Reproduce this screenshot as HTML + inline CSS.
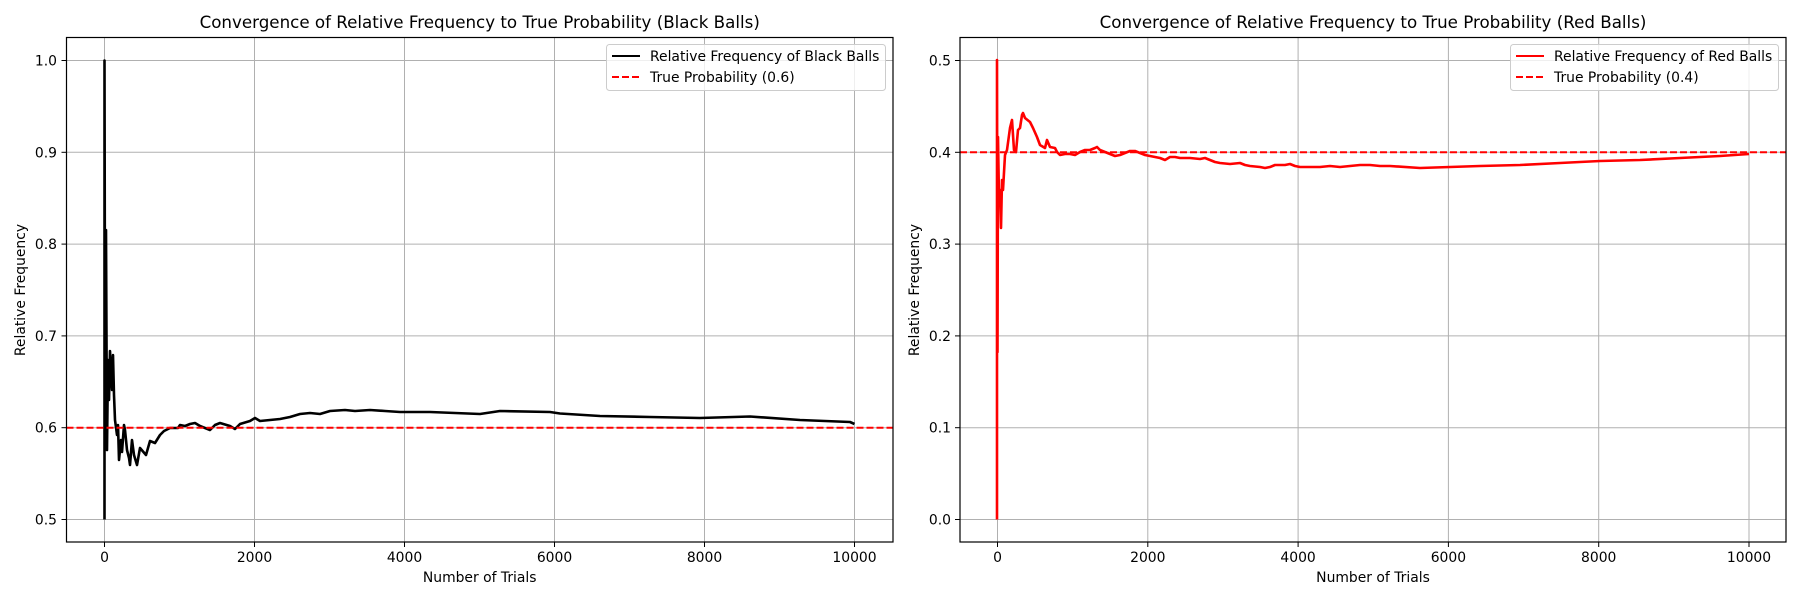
<!DOCTYPE html>
<html><head><meta charset="utf-8"><style>body{margin:0;background:#fff}svg{display:block}text{font-family:"DejaVu Sans","Liberation Sans",sans-serif;fill:#000}</style></head>
<body>
<svg width="1800" height="600" viewBox="0 0 1800 600" xmlns="http://www.w3.org/2000/svg">
<rect width="1800" height="600" fill="#fff"/>
<!-- LEFT -->
<g stroke="#b0b0b0" stroke-width="1">
<line x1="104.5" y1="37.5" x2="104.5" y2="542"/><line x1="254.5" y1="37.5" x2="254.5" y2="542"/><line x1="404.5" y1="37.5" x2="404.5" y2="542"/><line x1="554.5" y1="37.5" x2="554.5" y2="542"/><line x1="704.5" y1="37.5" x2="704.5" y2="542"/><line x1="854.5" y1="37.5" x2="854.5" y2="542"/>
<line x1="66.5" y1="60.5" x2="893" y2="60.5"/><line x1="66.5" y1="152.3" x2="893" y2="152.3"/><line x1="66.5" y1="244.1" x2="893" y2="244.1"/><line x1="66.5" y1="335.9" x2="893" y2="335.9"/><line x1="66.5" y1="427.7" x2="893" y2="427.7"/><line x1="66.5" y1="519.5" x2="893" y2="519.5"/>
</g>
<polyline fill="none" stroke="#000" stroke-width="2.6" stroke-linejoin="round" points="104.5,519.5 104.5,60.5 105,340 105.5,440 106,230 107,450 108,360 109,400 110,351 111,370 112,390 113,355 114,395 115,420 117,435 118,425 119,460 121,440 122,452 124,425 125,430 127,450 129,458 130,465 132,440 134,455 137,465 140,448 146,455 150,441 155,443 160,435 164,431 170,428 178,428 180,425 185,426 190,424 195,423 200,426 205,428 210,430 215,425 220,423 230,426 235,429 240,424 250,421 255,418 260,421 270,420 280,419 290,417 300,414 310,413 320,414 330,411 345,410 355,411 370,410 385,411 400,412 430,412 480,414 500,411 550,412 560,413.5 600,416 650,417 700,418 750,416.5 800,420 850,422 854.5,424"/>
<line x1="66.5" y1="427.7" x2="893" y2="427.7" stroke="#f00" stroke-width="2" stroke-dasharray="7,3"/>
<rect x="66.5" y="37.5" width="826.5" height="504.5" fill="none" stroke="#000" stroke-width="1.2"/>
<g stroke="#000"><line x1="104.5" y1="542" x2="104.5" y2="547"/><line x1="254.5" y1="542" x2="254.5" y2="547"/><line x1="404.5" y1="542" x2="404.5" y2="547"/><line x1="554.5" y1="542" x2="554.5" y2="547"/><line x1="704.5" y1="542" x2="704.5" y2="547"/><line x1="854.5" y1="542" x2="854.5" y2="547"/>
<line x1="61.5" y1="60.5" x2="66.5" y2="60.5"/><line x1="61.5" y1="152.3" x2="66.5" y2="152.3"/><line x1="61.5" y1="244.1" x2="66.5" y2="244.1"/><line x1="61.5" y1="335.9" x2="66.5" y2="335.9"/><line x1="61.5" y1="427.7" x2="66.5" y2="427.7"/><line x1="61.5" y1="519.5" x2="66.5" y2="519.5"/></g>
<g font-size="13.9" text-anchor="middle"><text x="104.5" y="562">0</text><text x="254.5" y="562">2000</text><text x="404.5" y="562">4000</text><text x="554.5" y="562">6000</text><text x="704.5" y="562">8000</text><text x="854.5" y="562">10000</text></g>
<g font-size="13.9" text-anchor="end"><text x="57" y="65.5">1.0</text><text x="57" y="157.3">0.9</text><text x="57" y="249.1">0.8</text><text x="57" y="340.9">0.7</text><text x="57" y="432.7">0.6</text><text x="57" y="524.5">0.5</text></g>
<text x="479.7" y="582" font-size="13.9" text-anchor="middle">Number of Trials</text>
<text transform="translate(25,290) rotate(-90)" font-size="13.9" text-anchor="middle">Relative Frequency</text>
<text x="479.7" y="28" font-size="16.7" text-anchor="middle">Convergence of Relative Frequency to True Probability (Black Balls)</text>
<rect x="606.5" y="44.5" width="279" height="46" rx="3" fill="#fff" fill-opacity="0.8" stroke="#ccc"/>
<line x1="612" y1="56" x2="640" y2="56" stroke="#000" stroke-width="2"/>
<line x1="612" y1="77" x2="640" y2="77" stroke="#f00" stroke-width="2" stroke-dasharray="7,3"/>
<text x="650" y="61" font-size="13.9">Relative Frequency of Black Balls</text>
<text x="650" y="82" font-size="13.9">True Probability (0.6)</text>
<!-- RIGHT -->
<g stroke="#b0b0b0" stroke-width="1">
<line x1="997.5" y1="37.5" x2="997.5" y2="542"/><line x1="1147.8" y1="37.5" x2="1147.8" y2="542"/><line x1="1298.1" y1="37.5" x2="1298.1" y2="542"/><line x1="1448.4" y1="37.5" x2="1448.4" y2="542"/><line x1="1598.7" y1="37.5" x2="1598.7" y2="542"/><line x1="1749" y1="37.5" x2="1749" y2="542"/>
<line x1="960" y1="60.5" x2="1786" y2="60.5"/><line x1="960" y1="152.3" x2="1786" y2="152.3"/><line x1="960" y1="244.1" x2="1786" y2="244.1"/><line x1="960" y1="335.9" x2="1786" y2="335.9"/><line x1="960" y1="427.7" x2="1786" y2="427.7"/><line x1="960" y1="519.5" x2="1786" y2="519.5"/>
</g>
<polyline fill="none" stroke="#f00" stroke-width="2.6" stroke-linejoin="round" points="997,519.5 997,60 997.5,352 998,137 999,200 1000,190 1001,228 1002,180 1003,190 1005,155 1007,150 1010,128 1012,120 1014,150 1016,152 1018,130 1020,128 1022,115 1023,113 1025,118 1030,122 1033,128 1037,137 1040,145 1045,148 1047,140 1050,147 1055,148 1057,152 1060,155 1065,154 1070,154 1075,155 1080,152 1085,150 1090,150 1095,148 1097,147 1100,150 1105,152 1110,154 1115,156 1120,155 1125,153 1130,151 1135,151 1140,153 1145,155 1150,156 1160,158 1165,160 1170,157 1175,157 1180,158 1190,158 1200,159 1205,158 1210,160 1215,162 1220,163 1230,164 1240,163 1245,165 1250,166 1260,167 1265,168 1270,167 1275,165 1285,165 1290,164 1295,166 1300,167 1310,167 1320,167 1330,166 1340,167 1350,166 1360,165 1370,165 1380,166 1390,166 1420,168 1450,167 1480,166 1520,165 1560,163 1600,161 1640,160 1680,158 1720,156 1749,154"/>
<line x1="960" y1="152.3" x2="1786" y2="152.3" stroke="#f00" stroke-width="2" stroke-dasharray="7,3"/>
<rect x="960" y="37.5" width="826" height="504.5" fill="none" stroke="#000" stroke-width="1.2"/>
<g stroke="#000"><line x1="997.5" y1="542" x2="997.5" y2="547"/><line x1="1147.8" y1="542" x2="1147.8" y2="547"/><line x1="1298.1" y1="542" x2="1298.1" y2="547"/><line x1="1448.4" y1="542" x2="1448.4" y2="547"/><line x1="1598.7" y1="542" x2="1598.7" y2="547"/><line x1="1749" y1="542" x2="1749" y2="547"/>
<line x1="955" y1="60.5" x2="960" y2="60.5"/><line x1="955" y1="152.3" x2="960" y2="152.3"/><line x1="955" y1="244.1" x2="960" y2="244.1"/><line x1="955" y1="335.9" x2="960" y2="335.9"/><line x1="955" y1="427.7" x2="960" y2="427.7"/><line x1="955" y1="519.5" x2="960" y2="519.5"/></g>
<g font-size="13.9" text-anchor="middle"><text x="997.5" y="562">0</text><text x="1147.8" y="562">2000</text><text x="1298.1" y="562">4000</text><text x="1448.4" y="562">6000</text><text x="1598.7" y="562">8000</text><text x="1749" y="562">10000</text></g>
<g font-size="13.9" text-anchor="end"><text x="951" y="65.5">0.5</text><text x="951" y="157.3">0.4</text><text x="951" y="249.1">0.3</text><text x="951" y="340.9">0.2</text><text x="951" y="432.7">0.1</text><text x="951" y="524.5">0.0</text></g>
<text x="1373" y="582" font-size="13.9" text-anchor="middle">Number of Trials</text>
<text transform="translate(919,290) rotate(-90)" font-size="13.9" text-anchor="middle">Relative Frequency</text>
<text x="1373" y="28" font-size="16.7" text-anchor="middle">Convergence of Relative Frequency to True Probability (Red Balls)</text>
<rect x="1510.5" y="44.5" width="268" height="46" rx="3" fill="#fff" fill-opacity="0.8" stroke="#ccc"/>
<line x1="1516" y1="56" x2="1544" y2="56" stroke="#f00" stroke-width="2"/>
<line x1="1516" y1="77" x2="1544" y2="77" stroke="#f00" stroke-width="2" stroke-dasharray="7,3"/>
<text x="1554" y="61" font-size="13.9">Relative Frequency of Red Balls</text>
<text x="1554" y="82" font-size="13.9">True Probability (0.4)</text>
</svg>
</body></html>
